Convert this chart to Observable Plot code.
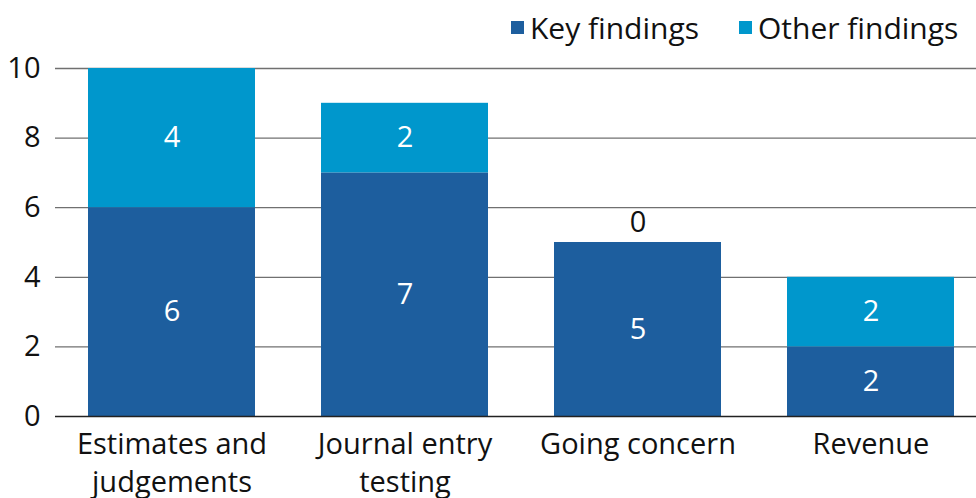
<!DOCTYPE html>
<html>
<head>
<meta charset="utf-8">
<script src="https://cdn.jsdelivr.net/npm/d3@7"></script>
<script src="https://cdn.jsdelivr.net/npm/@observablehq/plot@0.6"></script>
<style>
  html, body { margin: 0; padding: 0; background: #fff; }
  body { width: 976px; height: 498px; position: relative; overflow: hidden; font-family: "Open Sans", sans-serif; }
  #legend { position: absolute; top: 7px; left: 511px; display: flex; align-items: center; font-size: 30px; color: #111; z-index: 2; }
  .item { display: flex; align-items: center; }
  .sw { width: 13px; height: 13px; margin-right: 6px; }
  #chart svg { display: block; }
</style>
</head>
<body>
<div id="legend"></div>
<div id="chart"></div>
<script>
const categories = ["Estimates and judgements", "Journal entry testing", "Going concern", "Revenue"];
const tickLabels = ["Estimates and\njudgements", "Journal entry\ntesting", "Going concern", "Revenue"];
const seriesNames = ["Key findings", "Other findings"];
const seriesColors = ["#1d5e9e", "#0097cc"];
const keyFindings = [6, 7, 5, 2];
const otherFindings = [4, 2, 0, 2];
const yTicks = [0, 2, 4, 6, 8, 10];

const rows = [];
categories.forEach((c, i) => rows.push({category: c, series: seriesNames[0], value: keyFindings[i]}));
categories.forEach((c, i) => rows.push({category: c, series: seriesNames[1], value: otherFindings[i]}));

const nonZero = rows.filter(d => d.value > 0);
const zeroOther = categories.map((c, i) => ({category: c, key: keyFindings[i], other: otherFindings[i]})).filter(d => d.other === 0);

const labelOf = new Map(categories.map((c, i) => [c, tickLabels[i]]));

const chart = Plot.plot({
  width: 976,
  height: 498,
  marginLeft: 55,
  marginRight: 0,
  marginTop: 68,
  marginBottom: 82,
  style: {fontFamily: "Open Sans, sans-serif", fontSize: "28px", color: "#111", background: "#fff"},
  x: {domain: categories, range: [55, 987], paddingInner: 0.282, paddingOuter: 0.137},
  y: {domain: [0, 10]},
  color: {domain: seriesNames, range: seriesColors},
  marks: [
    Plot.ruleY(yTicks.filter(t => t > 0), {stroke: "#707070", strokeWidth: 1.3}),
    Plot.barY(rows, {x: "category", y: "value", fill: "series"}),
    Plot.ruleY([0], {stroke: "#222", strokeWidth: 1.3}),
    Plot.text(nonZero, Plot.stackY({x: "category", y: "value", z: "series", text: d => String(d.value), fill: "white", fontSize: 29})),
    Plot.text(zeroOther, {x: "category", y: "key", text: d => String(d.other), dy: -20, fill: "#111", fontSize: 29}),
    Plot.axisY({ticks: yTicks, tickSize: 0, tickPadding: 15, fontSize: 29, tickFormat: d => String(d), label: null}),
    Plot.axisX({tickSize: 0, tickPadding: 11, fontSize: 29, lineHeight: 1.3, tickFormat: d => labelOf.get(d), label: null})
  ]
});
document.getElementById("chart").appendChild(chart);

const legend = document.getElementById("legend");
seriesNames.forEach((name, i) => {
  const item = document.createElement("div");
  item.className = "item";
  if (i > 0) item.style.marginLeft = "40px";
  const sw = document.createElement("div");
  sw.className = "sw";
  sw.style.background = seriesColors[i];
  const t = document.createElement("span");
  t.textContent = name;
  item.appendChild(sw);
  item.appendChild(t);
  legend.appendChild(item);
});
</script>
</body>
</html>
